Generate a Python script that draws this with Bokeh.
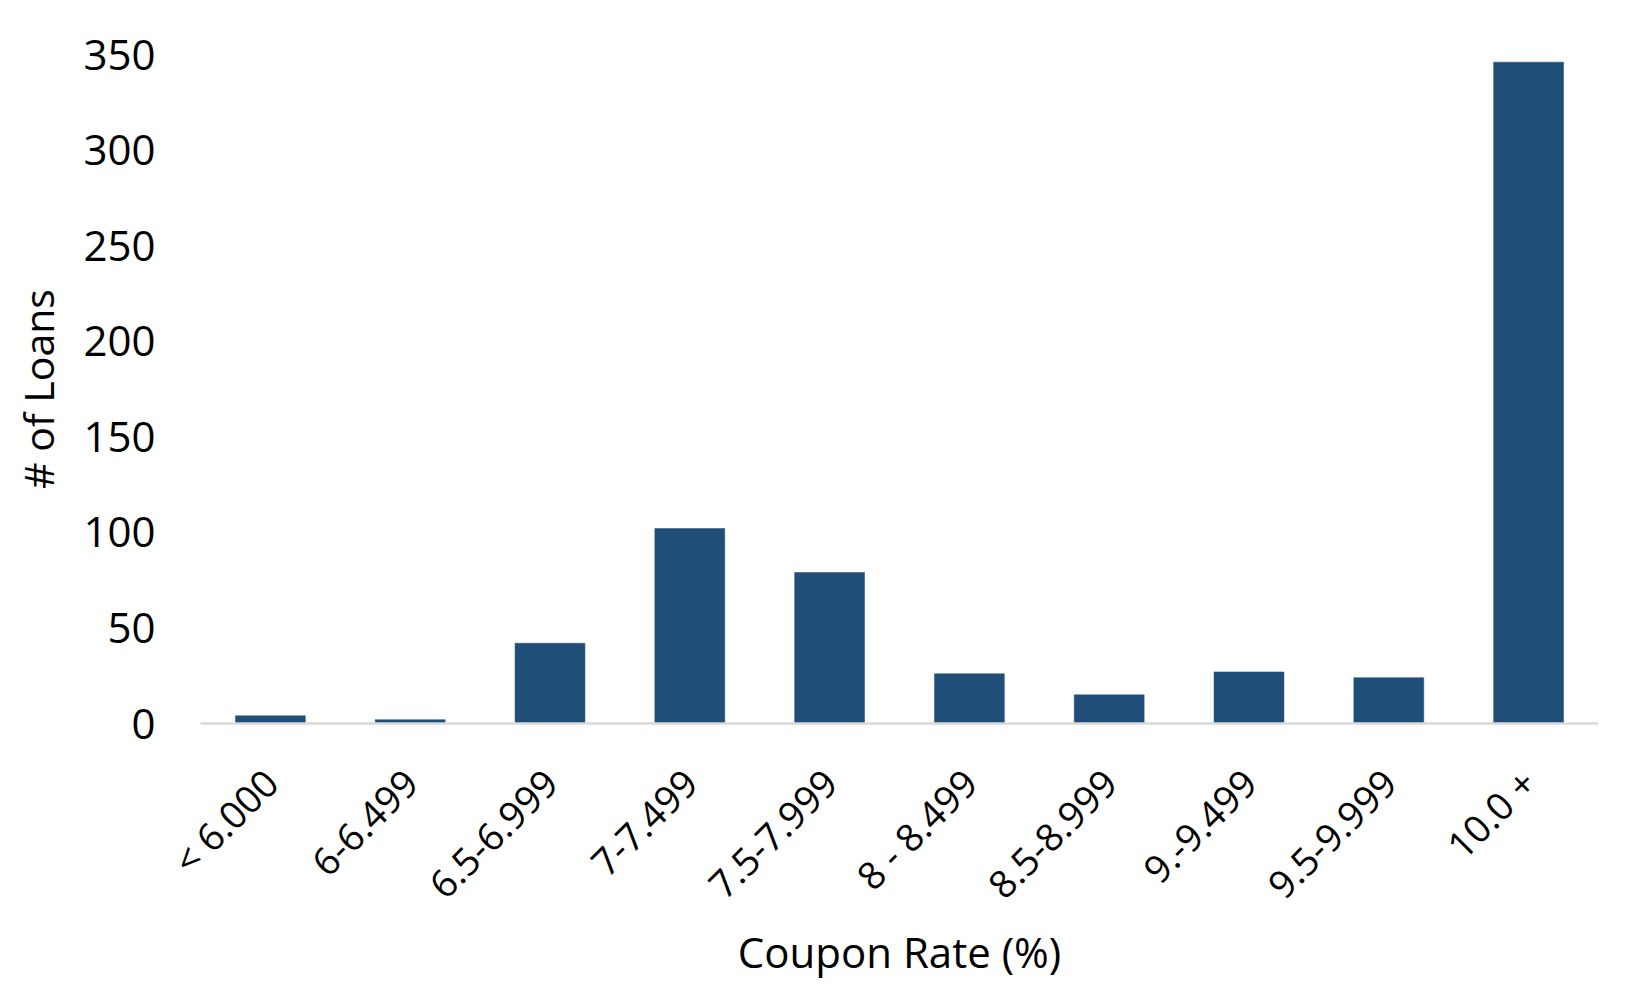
import math
from bokeh.plotting import figure
from bokeh.models import ColumnDataSource, FactorRange, Range1d, FixedTicker
from bokeh.embed import file_html
from bokeh.resources import INLINE

categories = ["< 6.000", "6-6.499", "6.5-6.999", "7-7.499", "7.5-7.999",
              "8 - 8.499", "8.5-8.999", "9.-9.499", "9.5-9.999", "10.0 +"]
loans = [4, 2, 42, 102, 79, 26, 15, 27, 24, 346]
y_ticks = [0, 50, 100, 150, 200, 250, 300, 350]

FONT = "Open Sans"

src = ColumnDataSource(dict(cat=categories, n=loans))

p = figure(x_range=FactorRange(*categories), y_range=Range1d(0, 350),
           width=1640, height=985, output_backend="svg", toolbar_location=None,
           min_border_left=200, min_border_right=42, min_border_top=54,
           min_border_bottom=262)
p.x_range.range_padding = 0
p.vbar(x="cat", top="n", width=0.5, source=src, fill_color="#1F4E79",
       line_color="#1F4E79", line_width=0.5)

p.xgrid.visible = False
p.ygrid.visible = False
p.outline_line_color = None

p.yaxis.ticker = FixedTicker(ticks=y_ticks)
p.yaxis.axis_line_color = None
p.yaxis.major_tick_line_color = None
p.yaxis.minor_tick_line_color = None
p.yaxis.major_tick_out = 0
p.yaxis.major_tick_in = 0
p.yaxis.minor_tick_out = 0
p.yaxis.major_label_standoff = 45
p.yaxis.axis_label = "# of Loans"
p.yaxis.axis_label_standoff = 14
p.yaxis.major_label_text_font_size = "42px"
p.yaxis.axis_label_text_font_size = "41px"

p.xaxis.axis_line_color = "#D9D9D9"
p.xaxis.axis_line_width = 2.5
p.xaxis.major_tick_line_color = None
p.xaxis.minor_tick_line_color = None
p.xaxis.major_tick_out = 0
p.xaxis.major_tick_in = 0
p.xaxis.minor_tick_out = 0
p.xaxis.major_label_orientation = math.pi / 4
p.xaxis.major_label_standoff = 52
p.xaxis.axis_label = "Coupon Rate (%)"
p.xaxis.axis_label_standoff = -7
p.xaxis.major_label_text_font_size = "38px"
p.xaxis.axis_label_text_font_size = "42px"

for ax in (p.xaxis, p.yaxis):
    ax.major_label_text_font = FONT
    ax.major_label_text_color = "black"
    ax.axis_label_text_font = FONT
    ax.axis_label_text_font_style = "normal"
    ax.axis_label_text_color = "black"

open("out.html", "w").write(file_html(p, INLINE))
